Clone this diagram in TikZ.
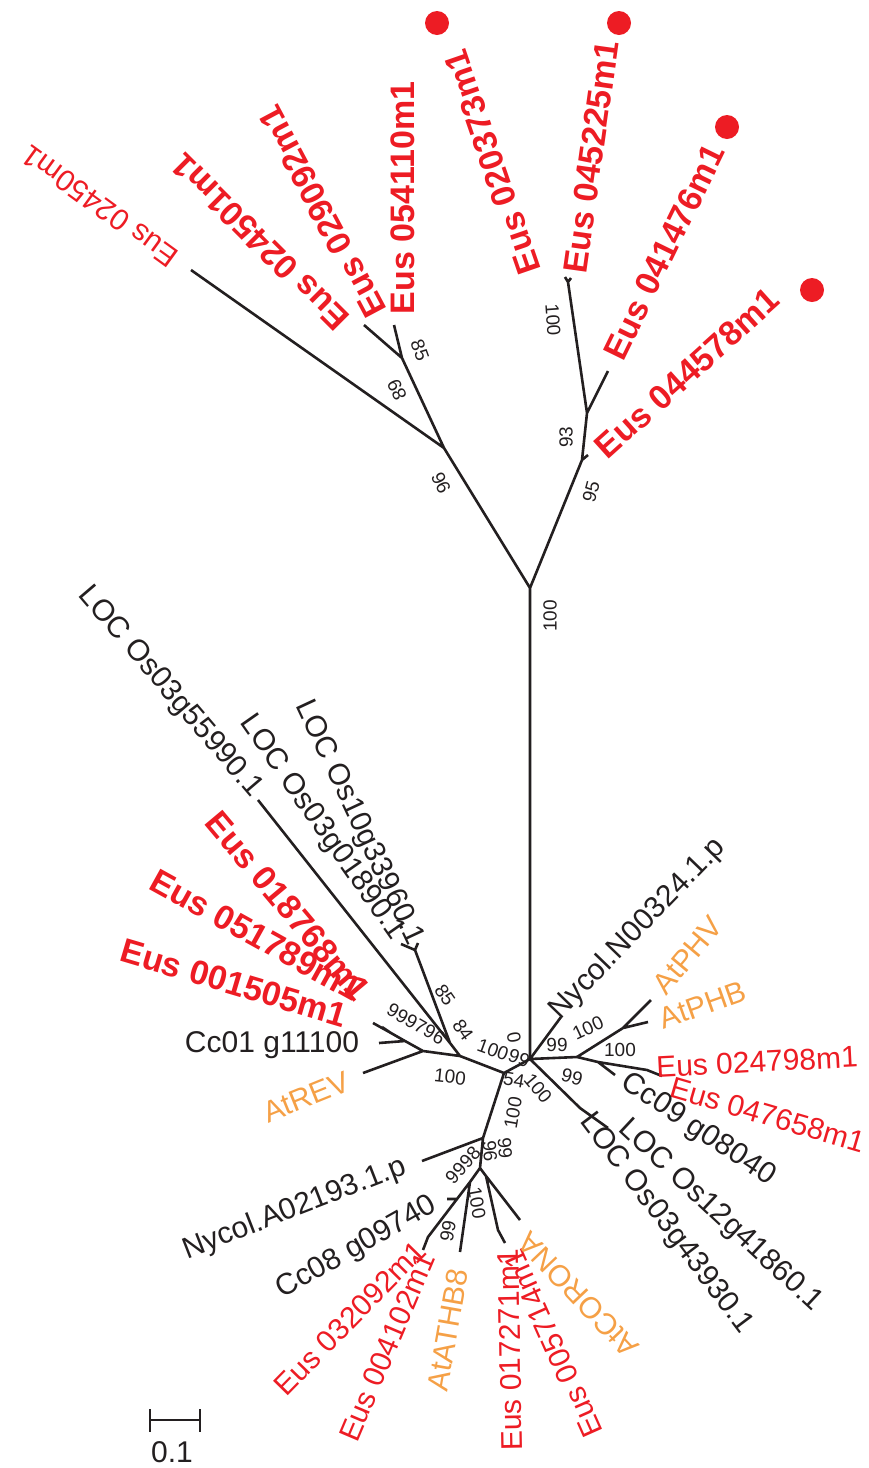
\documentclass[tikz,border=0pt]{standalone}
\usepackage{fontspec}
\setmainfont{Liberation Sans}
\usepackage{tikz}

\definecolor{eusred}{RGB}{237,28,36}
\definecolor{athal}{RGB}{245,160,70}
\definecolor{ink}{RGB}{35,31,32}

\begin{document}
\begin{tikzpicture}[x=1pt, y=-1pt,
    branch/.style={draw=ink, line width=2.6pt, line join=round},
    lab/.style={font=\fontsize{30}{36}\selectfont, text=ink, inner sep=0pt},
    euslab/.style={lab, text=eusred},
    eusbold/.style={lab, font=\fontsize{34}{40}\selectfont\bfseries, text=eusred},
    atlab/.style={lab, text=athal},
    bs/.style={font=\fontsize{19}{21}\selectfont, text=ink, inner sep=0pt},
    mark dot/.style={circle, fill=eusred, minimum size=24pt, inner sep=0pt}]
        \useasboundingbox (0,0) rectangle (868,1468);

        % upper clade
        \coordinate (A) at (530,588);
        \coordinate (B) at (530,1059);
        \coordinate (C) at (444,448);
        \coordinate (D) at (402,358);
        \coordinate (t02450) at (191,270);
        \coordinate (t029) at (364,325);
        \coordinate (t054) at (394,325);
        \coordinate (E) at (582,460);
        \coordinate (t0445) at (588,455);
        \coordinate (F) at (587,413);
        \coordinate (t0414) at (608,371);
        \coordinate (G) at (568,282);
        \coordinate (t020) at (565,277);
        \coordinate (t045) at (571,278);

        % lower clade
        \coordinate (H) at (504,1073);
        \coordinate (I) at (460,1056);
        \coordinate (J) at (450,1043);
        \coordinate (t55990) at (258,800);
        \coordinate (L) at (415,950);
        \coordinate (t01890) at (401,944);
        \coordinate (t33960) at (418,943);
        \coordinate (M) at (423,1051);
        \coordinate (tREV) at (363,1073);
        \coordinate (N1) at (405,1041);
        \coordinate (tCc01) at (379,1043);
        \coordinate (N2) at (391,1033);
        \coordinate (t18768) at (373,1023);
        \coordinate (t01505) at (382,1027);
        \coordinate (U) at (483,1138);
        \coordinate (tNyA) at (422,1161);
        \coordinate (V) at (480,1168);
        \coordinate (W) at (470,1182);
        \coordinate (Z) at (457,1199);
        \coordinate (tCc08) at (447,1199);
        \coordinate (Y) at (428,1237);
        \coordinate (t04102) at (423,1250);
        \coordinate (tATHB8) at (460,1252);
        \coordinate (V2) at (486,1176);
        \coordinate (t17271) at (498,1230);
        \coordinate (t05714) at (505,1243);
        \coordinate (tCOR) at (520,1220);
        \coordinate (P) at (577,1057);
        \coordinate (tNyN) at (561,1017);
        \coordinate (Q) at (623,1028);
        \coordinate (tPHV) at (651,1000);
        \coordinate (tPHB) at (648,1022);
        \coordinate (R) at (598,1062);
        \coordinate (tCc09) at (615,1075);
        \coordinate (S) at (647,1070);
        \coordinate (t24798) at (662,1076);
        \coordinate (T) at (580,1108);
        \coordinate (t41860) at (608,1128);

        \draw[branch] (A) -- (B)
            (A) -- (C) -- (t02450) (C) -- (D) -- (t029) (D) -- (t054)
            (A) -- (E) -- (t0445) (E) -- (F) -- (t0414) (F) -- (G) -- (t020) (G) -- (t045);
        \draw[branch] (B) -- (H) -- (I) -- (J) -- (t55990) (J) -- (L) -- (t01890) (L) -- (t33960)
            (I) -- (M) -- (tREV) (M) -- (N1) -- (tCc01) (N1) -- (N2) -- (t18768) (N2) -- (t01505)
            (H) -- (U) -- (tNyA) (U) -- (V) -- (W) -- (Z) -- (Y) -- (t04102) (Z) -- (tCc08) (W) -- (tATHB8)
            (V) -- (V2) -- (t17271) -- (t05714) (V2) -- (tCOR);
        \draw[branch] (B) -- (tNyN) (B) -- (P) -- (Q) -- (tPHV) (Q) -- (tPHB)
            (P) -- (R) -- (tCc09) (R) -- (S) -- (t24798) (B) -- (T) -- (t41860);

        % leaf labels, upper clade
        \node (l02450) [euslab, rotate=144] at (100,206) {Eus 02450m1};
        \node (l024501) [eusbold, rotate=135] at (260,242) {Eus 024501m1};
        \node (l029092) [eusbold, rotate=118] at (322,212) {Eus 029092m1};
        \node (l054110) [eusbold, rotate=90] at (403,198) {Eus 054110m1};
        \node (l020373) [eusbold, rotate=109] at (492,162) {Eus 020373m1};
        \node (l045225) [eusbold, rotate=82] at (591,157) {Eus 045225m1};
        \node (l041476) [eusbold, rotate=64] at (664,252) {Eus 041476m1};
        \node (l044578) [eusbold, rotate=42] at (687,373) {Eus 044578m1};

        \node (d1) [mark dot] at (437,23) {};
        \node (d2) [mark dot] at (619,23) {};
        \node (d3) [mark dot] at (727,127) {};
        \node (d4) [mark dot] at (812,290) {};

        % leaf labels, lower clade
        \node (l55990) [lab, rotate=-49.5] at (170,692) {LOC Os03g55990.1};
        \node (l01890) [lab, rotate=-55] at (322,828) {LOC Os03g01890.1};
        \node (l33960) [lab, rotate=-65] at (359,823) {LOC Os10g33960.1};
        \node (l18768) [eusbold, rotate=-50] at (288,906) {Eus 018768m1};
        \node (l51789) [eusbold, rotate=-29] at (256,935) {Eus 051789m1};
        \node (l01505) [eusbold, rotate=-16.5] at (234,983) {Eus 001505m1};
        \node (lCc01) [lab] at (272,1045) {Cc01 g11100};
        \node (lREV) [atlab, rotate=22] at (306,1097) {AtREV};
        \node (lNyN) [lab, rotate=46] at (638,929) {Nycol.N00324.1.p};
        \node (lPHV) [atlab, rotate=50] at (688,955) {AtPHV};
        \node (lPHB) [atlab, rotate=19.5] at (703,1005) {AtPHB};
        \node (l24798) [euslab, rotate=3] at (757,1062) {Eus 024798m1};
        \node (l47658) [euslab, rotate=-16.3] at (768,1115) {Eus 047658m1};
        \node (lCc09) [lab, rotate=-33.7] at (698,1130) {Cc09 g08040};
        \node (l41860) [lab, rotate=-43] at (720,1216) {LOC Os12g41860.1};
        \node (l43930) [lab, rotate=-53] at (666,1224) {LOC Os03g43930.1};
        \node (lNyA) [lab, rotate=21.3] at (295,1209) {Nycol.A02193.1.p};
        \node (lCc08) [lab, rotate=29.5] at (357,1248) {Cc08 g09740};
        \node (l32092) [euslab, rotate=45.6] at (350,1318) {Eus 032092m1};
        \node (l04102) [euslab, rotate=67] at (387,1347) {Eus 004102m1};
        \node (lATHB8) [atlab, rotate=80] at (448,1330) {AtATHB8};
        \node (l17271) [euslab, rotate=91] at (510,1350) {Eus 017271m1};
        \node (l05714) [euslab, rotate=114] at (553,1344) {Eus 005714m1};
        \node (lCOR) [atlab, rotate=133.5] at (578,1295) {AtCORONA};

        % bootstrap values
        \node (b1) [bs, rotate=90] at (550,616) {100};
        \node (b2) [bs, rotate=-65] at (441,483) {96};
        \node (b3) [bs, rotate=115] at (397,390) {89};
        \node (b4) [bs, rotate=-70] at (420,350) {85};
        \node (b5) [bs, rotate=-86] at (553,320) {100};
        \node (b6) [bs, rotate=90] at (566,437) {93};
        \node (b7) [bs, rotate=75] at (591,492) {95};
        \node (b8) [bs, rotate=-55] at (445,995) {85};
        \node (b9) [bs, rotate=-55] at (463,1030) {84};
        \node (b10) [bs, rotate=-30] at (416,1024) {999796};
        \node (b11) [bs, rotate=-6] at (450,1077) {100};
        \node (b12) [bs, rotate=-20] at (493,1050) {100};
        \node (b13) [bs, rotate=-20] at (519,1058) {99};
        \node (b14) [bs, rotate=-80] at (514,1038) {0};
        \node (b15) [bs, rotate=-10] at (514,1080) {54};
        \node (b16) [bs, rotate=-50] at (538,1088) {100};
        \node (b17) [bs] at (557,1045) {99};
        \node (b18) [bs, rotate=25] at (588,1028) {100};
        \node (b19) [bs] at (620,1050) {100};
        \node (b20) [bs, rotate=-15] at (572,1077) {99};
        \node (b21) [bs, rotate=80] at (513,1113) {100};
        \node (b22) [bs, rotate=-85] at (490,1151) {96};
        \node (b23) [bs, rotate=-85] at (505,1148) {99};
        \node (b24) [bs, rotate=48] at (463,1165) {9998};
        \node (b25) [bs, rotate=-80] at (477,1203) {100};
        \node (b26) [bs, rotate=80] at (448,1231) {99};

        % scale bar
        \coordinate (sb1) at (150,1420);
        \coordinate (sb2) at (200,1420);
        \draw[branch] (sb1) -- (sb2) (sb1) ++(0,-11) -- ++(0,23) (sb2) ++(0,-11) -- ++(0,23);
        \node (sbl) [lab] at (172,1452) {0.1};
    \end{tikzpicture}
\end{document}
